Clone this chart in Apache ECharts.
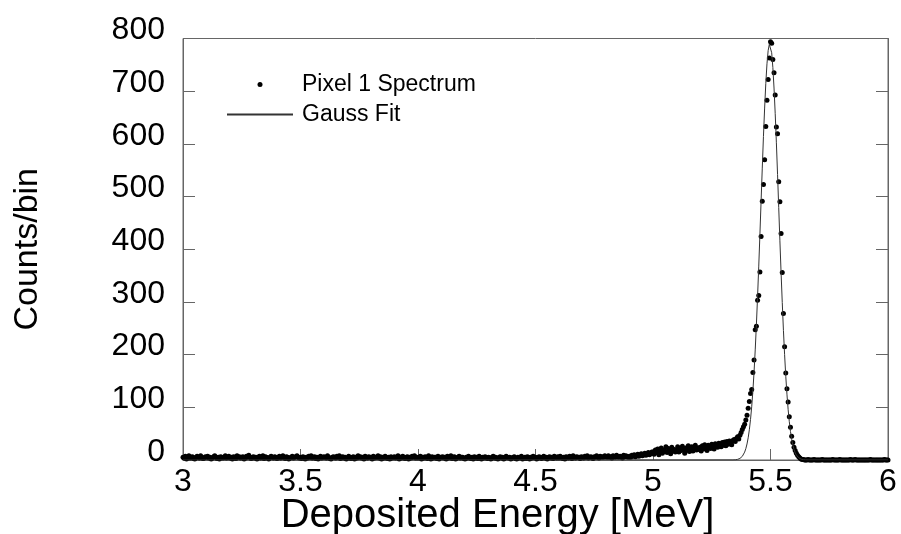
<!DOCTYPE html>
<html>
<head>
<meta charset="utf-8">
<script src="https://cdn.jsdelivr.net/npm/echarts@6/dist/echarts.min.js"></script>
<style>
html,body{margin:0;padding:0;background:#fff;}
#chart{width:901px;height:534px;}
</style>
</head>
<body>
<div id="chart"></div>
<script>
// Histogram bins: 3.000 .. 6.000 MeV, width 0.005 MeV
var binStart = 3.0;
var binWidth = 0.005;

// 3.000 - 4.895 MeV : flat background
var backgroundCounts = [
5,4,7,2,5,8,4,5,6,3,2,5,7,5,4,8,5,3,4,6,
5,7,4,5,2,4,6,8,5,3,5,2,6,5,4,5,8,4,5,7,
4,5,2,6,5,3,8,5,6,4,5,6,2,4,7,5,9,5,3,5,
6,4,5,2,5,7,4,5,8,3,6,5,4,2,5,7,5,4,6,5,
3,5,7,4,5,8,5,3,6,5,2,4,5,7,4,5,6,8,5,4,
5,3,6,5,2,5,4,7,5,8,4,5,6,3,5,2,5,7,4,5,
6,5,4,8,5,3,2,5,6,5,4,7,5,8,3,5,6,4,5,2,
4,7,5,3,5,6,2,5,4,8,5,6,4,5,2,7,5,4,6,5,
5,2,7,4,5,5,8,4,6,2,5,4,7,5,3,5,2,6,4,5,
6,4,5,8,2,5,4,7,5,3,5,6,2,5,4,7,5,8,4,5,
4,5,7,2,5,4,6,5,3,8,5,2,6,4,5,5,3,7,2,5,
5,6,4,5,2,7,4,5,8,3,5,6,2,4,5,7,4,5,5,3,
2,5,4,7,5,3,5,2,6,4,5,3,7,5,2,5,4,6,5,3,
5,4,2,5,7,4,5,3,2,5,6,4,5,2,4,7,5,4,5,2,
4,5,6,3,2,5,4,5,7,2,4,5,3,6,5,2,5,4,7,5,
5,2,4,6,5,3,5,7,4,5,2,5,6,4,5,3,7,5,4,6,
4,7,5,3,5,2,6,5,4,7,5,3,8,5,4,6,5,5,3,6,
5,4,7,5,8,4,5,6,5,3,6,5,8,5,4,7,5,6,5,8,
6,5,8,5,6,4,8,6,5,9,6,5,7,6,4,9,6,8,6,5
];
// 4.900 - 4.995 MeV : onset of low-energy tail
var onsetCounts = [7,5,9,7,10,6,8,11,7,9,12,8,10,13,9,11,14,10,12,15];
// 5.000 - 5.295 MeV : low-energy tail
var tailCounts = [
15,11,19,14,21,10,17,23,13,19,16,25,14,22,18,12,24,17,20,15,
19,25,15,22,18,26,20,13,23,19,27,16,21,25,17,22,28,19,23,20,
24,17,27,21,29,23,18,28,24,22,30,25,21,31,26,24,32,27,25,33
];
// 5.300 - 5.375 MeV
var shoulderCounts = [28,34,27,35,30,36,32,29,37,39,35,41,44,40,47,52];
// 5.380 - 5.650 MeV : main peak
var peakCounts = [
58,63,68,76,85,98,111,126,134,166,
190,247,254,303,312,357,424,491,523,570,
633,683,722,763,794,791,760,735,693,632,
619,528,490,430,356,278,215,165,135,110,
82,62,45,33,24,18,13,9,6,4,
2,1,1,0,0
];
// 5.655 - 6.000 MeV
var highCounts = [
0,1,0,0,0,0,1,0,0,0,
0,0,0,1,0,0,0,0,0,0,
0,0,1,0,0,0,0,0,1,0,
0,0,0,0,0,0,0,1,0,0,
0,1,0,0,0,0,0,0,0,0,
0,0,0,0,1,0,0,0,0,0,
0,0,0,0,0,0,1,0,0,0
];

// Gauss fit curve (energy, counts)
var fitEnergy = [3.0,5.34,5.35,5.355,5.36,5.365,5.37,5.375,5.38,5.385,5.39,5.395,5.40,5.405,5.41,5.415,5.42,5.425,5.43,5.435,5.44,5.445,5.45,5.455,5.46,5.465,5.47,5.475,5.48,5.485,5.49,5.495,5.50,5.505,5.51,5.515,5.52,5.525,5.53,5.535,5.54,5.545,5.55,5.555,5.56,5.565,5.57,5.575,5.58,5.585,5.59,5.595,5.60,5.605,5.61,5.615,5.62,5.625,5.63,5.635,5.64,5.65,5.66,6.0];
var fitCounts = [0,0.15,0.44,0.73,1.2,1.9,3.0,4.6,6.9,10.3,15,21.5,30.4,42.1,57.4,77,101,131,167,209,257,310,368,429,492,554,614,668,715,752,777,789,788,773,745,706,658,602,542,479,416,356,299,246,200,159,125,96,72.7,54.1,39.5,28.4,20.1,13.9,9.5,6.4,4.2,2.7,1.7,1.1,0.66,0.24,0.08,0];

var xTicks = {min: 3, max: 6, interval: 0.5};
var yTicks = {min: 0, max: 800, interval: 100};

var counts = backgroundCounts.concat(onsetCounts, tailCounts, shoulderCounts, peakCounts, highCounts);
var spectrum = counts.map(function (c, i) {
  return [+(binStart + i * binWidth).toFixed(3), c];
});
var fit = fitEnergy.map(function (e, i) { return [e, fitCounts[i]]; });

var FONT = "'Liberation Sans', Arial, Helvetica, sans-serif";
var axisGrey = '#666';

var chart = echarts.init(document.getElementById('chart'), null, {renderer: 'canvas'});
chart.setOption({
  animation: false,
  backgroundColor: '#fff',
  textStyle: {fontFamily: FONT},
  grid: {
    left: 183, right: 13, top: 38.5, bottom: 74,
    containLabel: false,
    outerBoundsMode: 'none',
    show: true, borderColor: axisGrey, borderWidth: 1, backgroundColor: 'transparent'
  },
  legend: {
    orient: 'vertical',
    left: 226, top: 73,
    padding: 0,
    itemWidth: 66, itemHeight: 5,
    itemGap: 7,
    textStyle: {fontFamily: FONT, fontSize: 23, color: '#000', padding: [0, 0, 0, 4]},
    data: [
      {name: 'Pixel 1 Spectrum'},
      {name: 'Gauss Fit', itemStyle: {opacity: 0}}
    ]
  },
  xAxis: [{
    type: 'value',
    min: xTicks.min, max: xTicks.max, interval: xTicks.interval,
    position: 'bottom',
    name: 'Deposited Energy [MeV]',
    nameLocation: 'middle',
    nameGap: 36,
    nameMoveOverlap: false,
    nameTextStyle: {fontFamily: FONT, fontSize: 40, color: '#000', padding: [0, 76, 0, 0]},
    axisLine: {show: true, onZero: false, lineStyle: {color: axisGrey, width: 1}},
    axisTick: {show: true, inside: true, length: 11, lineStyle: {color: axisGrey, width: 1}},
    axisLabel: {show: true, margin: 6, fontFamily: FONT, fontSize: 32, color: '#000'},
    splitLine: {show: false}
  }],
  yAxis: [{
    type: 'value',
    min: yTicks.min, max: yTicks.max, interval: yTicks.interval,
    position: 'left',
    name: 'Counts/bin',
    nameLocation: 'middle',
    nameGap: 138,
    nameRotate: 90,
    nameTextStyle: {fontFamily: FONT, fontSize: 34, color: '#000'},
    axisLine: {show: true, onZero: false, lineStyle: {color: axisGrey, width: 1}},
    axisTick: {show: true, inside: true, length: 12, lineStyle: {color: axisGrey, width: 1}},
    axisLabel: {show: true, margin: 18, fontFamily: FONT, fontSize: 32, color: '#000', verticalAlign: 'bottom', lineHeight: 16},
    splitLine: {show: false}
  }, {
    type: 'value',
    min: yTicks.min, max: yTicks.max, interval: yTicks.interval,
    position: 'right',
    axisLine: {show: true, onZero: false, lineStyle: {color: axisGrey, width: 1}},
    axisTick: {show: true, inside: true, length: 12, lineStyle: {color: axisGrey, width: 1}},
    axisLabel: {show: false},
    splitLine: {show: false}
  }],
  series: [{
    name: 'Pixel 1 Spectrum',
    type: 'scatter',
    data: spectrum,
    symbol: 'circle',
    symbolSize: 5,
    itemStyle: {color: '#000', opacity: 1},
    z: 2
  }, {
    name: 'Gauss Fit',
    type: 'line',
    data: fit,
    symbol: 'none',
    showSymbol: false,
    smooth: false,
    lineStyle: {color: '#333', width: 1},
    itemStyle: {color: '#333'},
    z: 3
  }]
});
</script>
</body>
</html>
